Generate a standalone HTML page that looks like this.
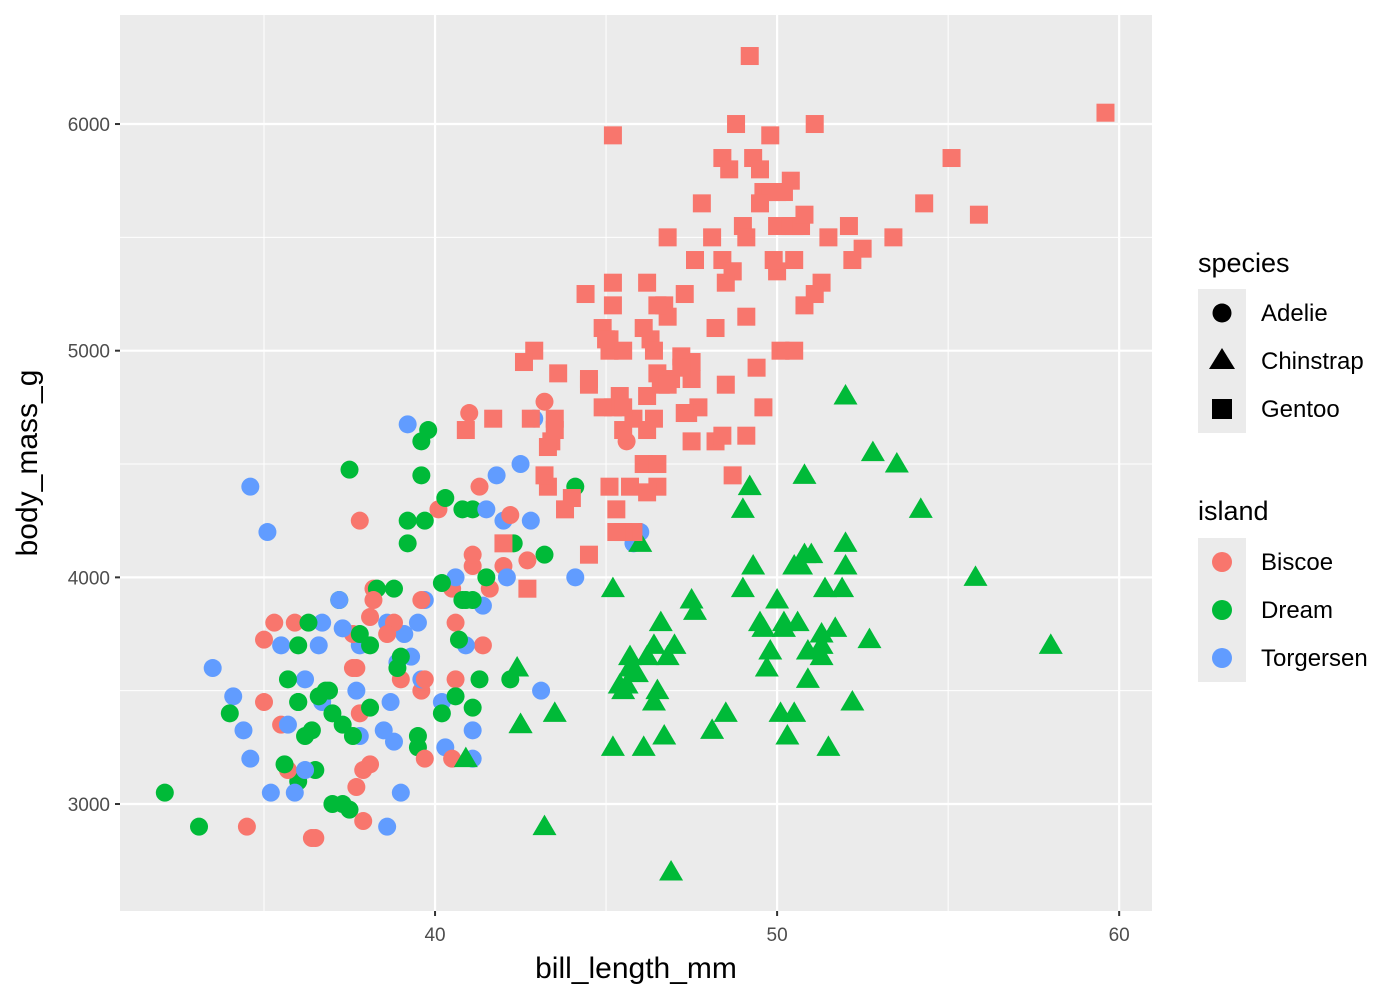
<!DOCTYPE html>
<html><head><meta charset="utf-8"><style>
html,body{margin:0;padding:0;background:#fff;}
svg text{font-family:"Liberation Sans",Arial,sans-serif;}
</style></head><body>
<svg id="chart" width="1400" height="1000" xmlns="http://www.w3.org/2000/svg">
<rect x="120" y="15" width="1032" height="896" fill="#ebebeb"/>
<g id="grid"></g>
<g id="ticks"></g>
<g id="points"></g>
<text x="636" y="978" font-size="30" text-anchor="middle" fill="#000">bill_length_mm</text>
<text transform="translate(37,463) rotate(-90)" font-size="30" text-anchor="middle" fill="#000">body_mass_g</text>
<g>
<text x="1198" y="272" font-size="27">species</text>
<rect x="1198" y="289" width="48" height="144" fill="#ebebeb"/>
<circle cx="1222" cy="313" r="9.5" fill="#000"/>
<polygon points="1222,348 1235,369 1209,369" fill="#000"/>
<rect x="1212" y="399" width="20" height="20" fill="#000"/>
<text x="1261" y="321" font-size="24">Adelie</text>
<text x="1261" y="369" font-size="24">Chinstrap</text>
<text x="1261" y="417" font-size="24">Gentoo</text>
</g>
<g>
<text x="1198" y="520" font-size="27">island</text>
<rect x="1198" y="538" width="48" height="144" fill="#ebebeb"/>
<circle cx="1222" cy="562" r="10" fill="#F8766D"/>
<circle cx="1222" cy="610" r="10" fill="#00BA38"/>
<circle cx="1222" cy="658" r="10" fill="#619CFF"/>
<text x="1261" y="570" font-size="24">Biscoe</text>
<text x="1261" y="618" font-size="24">Dream</text>
<text x="1261" y="666" font-size="24">Torgersen</text>
</g>
</svg>
<script>
const xTicks=[40,50,60];
const xMinor=[35,45,55];
const yTicks=[3000,4000,5000,6000];
const yMinor=[3500,4500,5500];
const adelieBill=[39.1,39.5,40.3,36.7,39.3,38.9,39.2,34.1,42.0,37.8,37.8,41.1,38.6,34.6,36.6,38.7,42.5,34.4,46.0,
37.8,37.7,35.9,38.2,38.8,35.3,40.6,40.5,37.9,40.5,
39.5,37.2,39.5,40.9,36.4,39.2,38.8,42.2,37.6,39.8,36.5,40.8,36.0,44.1,37.0,39.6,41.1,37.5,36.0,42.3,
39.6,40.1,35.0,42.0,34.5,41.4,39.0,40.6,36.5,37.6,35.7,41.3,37.6,41.1,36.4,41.6,35.5,41.1,
35.9,41.8,33.5,39.7,39.6,45.8,35.5,42.8,40.9,37.2,36.2,42.1,34.6,42.9,36.7,35.1,
37.3,41.3,36.3,36.9,38.3,38.9,35.7,41.1,34.0,39.6,36.2,40.8,38.1,40.3,33.1,43.2,
35.0,41.0,37.7,37.8,37.9,39.7,38.6,38.2,38.1,43.2,38.1,45.6,39.7,42.2,39.6,42.7,
38.6,37.3,35.7,41.1,36.2,37.7,40.2,41.4,35.2,40.6,38.8,41.5,39.0,44.1,38.5,43.1,
36.8,37.5,38.1,41.1,35.6,40.2,37.0,39.7,40.2,40.6,32.1,40.7,37.3,39.0,39.2,36.6,36.0,37.8,36.0,41.5];
const adelieMass=[3750,3800,3250,3450,3650,3625,4675,3475,4250,3300,3700,3200,3800,4400,3700,3450,4500,3325,4200,
3400,3600,3800,3950,3800,3800,3550,3200,3150,3950,
3250,3900,3300,3900,3325,4150,3950,3550,3300,4650,3150,3900,3100,4400,3000,4600,3425,2975,3450,4150,
3500,4300,3450,4050,2900,3700,3550,3800,2850,3750,3150,4400,3600,4050,2850,3950,3350,4100,
3050,4450,3600,3900,3550,4150,3700,4250,3700,3900,3550,4000,3200,4700,3800,4200,
3350,3550,3800,3500,3950,3600,3550,4300,3400,4450,3300,4300,3700,4350,2900,4100,
3725,4725,3075,4250,2925,3550,3750,3900,3175,4775,3825,4600,3200,4275,3900,4075,
2900,3775,3350,3325,3150,3500,3450,3875,3050,4000,3275,4300,3050,4000,3325,3500,
3500,4475,3425,3900,3175,3975,3400,4250,3400,3475,3050,3725,3000,3650,4250,3475,3450,3750,3700,4000];
const adelieIslandRuns=[["Torgersen",19],["Biscoe",10],["Dream",20],["Biscoe",18],["Torgersen",16],["Dream",16],["Biscoe",16],["Torgersen",16],["Dream",20]];
const chinstrapBill=[46.5,50.0,51.3,45.4,52.7,45.2,46.1,51.3,46.0,51.3,46.6,51.7,47.0,52.0,45.9,50.5,50.3,58.0,46.4,49.2,42.4,48.5,43.2,50.6,46.7,52.0,50.5,49.5,46.4,52.8,40.9,54.2,42.5,51.0,49.7,47.5,47.6,52.0,46.9,53.5,49.0,46.2,50.9,45.5,50.9,50.8,50.1,49.0,51.5,49.8,48.1,51.4,45.7,50.7,42.5,52.2,45.2,49.3,50.2,45.6,51.9,46.8,45.7,55.8,43.5,49.6,50.8,50.2];
const chinstrapMass=[3500,3900,3650,3525,3725,3950,3250,3750,4150,3700,3800,3775,3700,4050,3575,4050,3300,3700,3450,4400,3600,3400,2900,3800,3300,4150,3400,3800,3700,4550,3200,4300,3350,4100,3600,3900,3850,4800,2700,4500,3950,3650,3550,3500,3675,4450,3400,4300,3250,3675,3325,3950,3600,4050,3350,3450,3250,4050,3800,3525,3950,3650,3650,4000,3400,3775,4100,3775];
const gentooBill=[46.1,50.0,48.7,50.0,47.6,46.5,45.4,46.7,43.3,46.8,40.9,49.0,45.5,48.4,45.8,49.3,42.0,49.2,46.2,48.7,50.2,45.1,46.5,46.3,42.9,46.1,44.5,47.8,48.2,50.0,47.3,42.8,45.1,59.6,49.1,48.4,42.6,44.4,44.0,48.7,42.7,49.6,45.3,49.6,50.5,43.6,45.5,50.5,44.9,45.2,46.6,48.5,45.1,50.1,46.5,45.0,43.8,45.5,43.2,50.4,45.3,46.2,45.7,54.3,45.8,49.8,46.2,49.5,43.5,50.7,47.7,46.4,48.2,46.5,46.4,48.6,47.5,51.1,45.2,45.2,49.1,52.5,47.4,50.0,44.9,50.8,43.4,51.3,47.5,52.1,47.5,52.2,45.5,49.5,44.5,50.8,49.4,46.9,48.4,51.1,48.5,55.9,47.2,49.1,47.3,46.8,41.7,53.4,43.3,48.1,50.5,49.8,43.5,51.5,46.2,55.1,44.5,48.8,47.2,46.8,50.4,45.2,49.9];
const gentooMass=[4500,5700,4450,5700,5400,4500,4800,5200,4400,5150,4650,5550,4650,5850,4200,5850,4150,6300,4800,5350,5700,5000,4400,5050,5000,5100,4100,5650,4600,5550,5250,4700,5050,6050,5150,5400,4950,5250,4350,5350,3950,5700,4300,4750,5550,4900,4200,5400,5100,5300,4850,5300,4400,5000,4900,5050,4300,5000,4450,5550,4200,5300,4400,5650,4700,5700,4650,5800,4700,5550,4750,5000,5100,5200,4700,5800,4600,6000,4750,5950,4625,5450,4725,5350,4750,5600,4600,5300,4875,5550,4950,5400,4750,5650,4850,5200,4925,4875,4625,5250,4850,5600,4975,5500,4725,5500,4700,5500,4575,5500,5000,5950,4650,5500,4375,5850,4875,6000,4925,4850,5750,5200,5400];
const islandColors={Biscoe:"#F8766D",Dream:"#00BA38",Torgersen:"#619CFF"};

const X0=120,X1=1152,Y0=15,Y1=911;
const xMin=30.79,xMax=60.96,yMin=2528,yMax=6481;
const sx=v=>X0+(v-xMin)/(xMax-xMin)*(X1-X0);
const sy=v=>Y1-(v-yMin)/(yMax-yMin)*(Y1-Y0);
const NS="http://www.w3.org/2000/svg";
function mk(tag,attrs,parent){const e=document.createElementNS(NS,tag);for(const k in attrs)e.setAttribute(k,attrs[k]);parent.appendChild(e);return e;}
const grid=document.getElementById('grid'),ticks=document.getElementById('ticks'),pts=document.getElementById('points');
xMinor.forEach(v=>{const l=mk('line',{x1:sx(v),x2:sx(v),y1:Y0,y2:Y1,stroke:'#fff','stroke-width':1},grid);

});
yMinor.forEach(v=>{const l=mk('line',{x1:X0,x2:X1,y1:sy(v),y2:sy(v),stroke:'#fff','stroke-width':1},grid);

});
xTicks.forEach(v=>{const l=mk('line',{x1:sx(v),x2:sx(v),y1:Y0,y2:Y1,stroke:'#fff','stroke-width':2.2},grid);


const t=mk('line',{x1:sx(v),x2:sx(v),y1:Y1,y2:Y1+5,stroke:'#333','stroke-width':2},ticks);


const tx=mk('text',{x:sx(v),y:Y1+30,'font-size':'19','text-anchor':'middle',fill:'#4d4d4d'},ticks);tx.textContent=v;

});
yTicks.forEach(v=>{const l=mk('line',{x1:X0,x2:X1,y1:sy(v),y2:sy(v),stroke:'#fff','stroke-width':2.2},grid);


const t=mk('line',{x1:X0-5,x2:X0,y1:sy(v),y2:sy(v),stroke:'#333','stroke-width':2},ticks);


const tx=mk('text',{x:X0-10,y:sy(v)+7,'font-size':'19','text-anchor':'end',fill:'#4d4d4d'},ticks);tx.textContent=v;

});

const adelieIsland=[];adelieIslandRuns.forEach(r=>{for(let i=0;i<r[1];i++)adelieIsland.push(r[0]);});
const n=Math.min(adelieBill.length,adelieMass.length);
for(let i=0;i<n;i++){const c=mk('circle',{cx:sx(adelieBill[i]),cy:sy(adelieMass[i]),r:9,fill:islandColors[adelieIsland[i]||'Biscoe']},pts);

}
for(let i=0;i<chinstrapBill.length;i++){const x=sx(chinstrapBill[i]),y=sy(chinstrapMass[i]);
const p=mk('polygon',{points:`${x},${y-12} ${x+12},${y+8.5} ${x-12},${y+8.5}`,fill:islandColors.Dream},pts);

}
for(let i=0;i<gentooBill.length;i++){const x=sx(gentooBill[i]),y=sy(gentooMass[i]);
const r=mk('rect',{x:x-9,y:y-9,width:18,height:18,fill:islandColors.Biscoe},pts);

}
</script>
</body></html>
